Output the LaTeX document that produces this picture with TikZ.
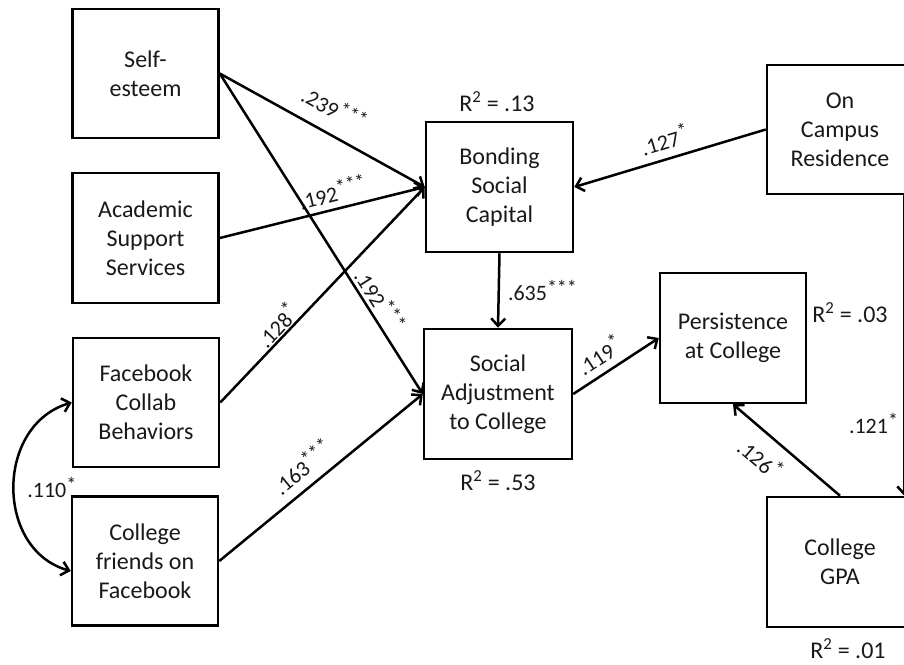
\documentclass[tikz,border=0pt]{standalone}
\usepackage{fontspec}
\setmainfont{Carlito}
\usetikzlibrary{arrows.meta,calc}
\newcommand\sigstars[1]{\raisebox{0.3em}{\fontsize{20}{20}\selectfont #1}}
\begin{document}
\begin{tikzpicture}[x=1pt,y=-1pt,
  box/.style={draw, line width=2.5pt, minimum width=146pt, minimum height=129pt, align=center, font=\fontsize{24}{29}\selectfont, inner sep=0pt, text=black!90},
  conn/.style={line width=2.5pt, -{Straight Barb[length=7.5pt,width=14pt]}},
  coef/.style={font=\fontsize{22}{26}\selectfont, inner sep=1pt, text=black!90},
  rsq/.style={font=\fontsize{24}{28}\selectfont, inner sep=0pt, text=black!90}]
\useasboundingbox (0,0) rectangle (904,664);
\clip (0,0) rectangle (904,664);

% boxes
\node[box] (se) at (145.5,73.5) {Self-\\esteem};
\node[box, minimum height=130pt] (ass) at (145.5,238) {Academic\\Support\\Services};
\node[box] (fb) at (146,402.5) {Facebook\\Collab\\Behaviors};
\node[box] (cf) at (145,561) {College\\friends on\\Facebook};
\node[box, minimum width=147pt, minimum height=130pt] (bsc) at (499.5,187) {Bonding\\Social\\Capital};
\node[box, minimum width=148pt, minimum height=130pt] (sa) at (498,394) {Social\\Adjustment\\to College};
\node[box, minimum height=130pt] (pc) at (733,338) {Persistence\\at College};
\node[box] (oc) at (840,129.5) {On\\Campus\\Residence};
\node[box, minimum height=130pt] (gpa) at (840,562) {College\\GPA};

% R-squared labels
\node[rsq] (r13) at (497,102) {R\textsuperscript{2} = .13};
\node[rsq] (r53) at (498,481) {R\textsuperscript{2} = .53};
\node[rsq] (r03) at (850,313) {R\textsuperscript{2} = .03};
\node[rsq] (r01) at (848,649) {R\textsuperscript{2} = .01};

% paths
\draw[conn] (se.east) -- node[coef, sloped, above=13pt, pos=0.5] (l239) {.239\sigstars{***}} (bsc.west);
\draw[conn] (ass.east) -- node[coef, sloped, above=5pt, pos=0.57] (l192a) {.192\sigstars{***}} (bsc.west);
\draw[conn] (fb.east) -- node[coef, sloped, above=0pt, pos=0.32] (l128) {.128\sigstars{*}} (bsc.west);
\draw[conn] (se.east) -- node[coef, sloped, above=2pt, pos=0.73] (l192b) {.192\sigstars{***}} (sa.west);
\draw[conn] (cf.east) -- node[coef, sloped, above=8pt, pos=0.47] (l163) {.163\sigstars{***}} (sa.west);
\draw[conn] (bsc.south) -- node[coef, right=7pt, pos=0.5] (l635) {.635\sigstars{***}} (sa.north);
\draw[conn] (sa.east) -- node[coef, sloped, above=6pt, pos=0.42] (l119) {.119\sigstars{*}} (pc.west);
\draw[conn] (oc.west) -- node[coef, sloped, above=7pt, pos=0.5] (l127) {.127\sigstars{*}} (bsc.east);
\draw[conn] (gpa.north) -- node[coef, sloped, below=10pt, pos=0.6] (l126) {.126\sigstars{*}} (pc.south);
\draw[conn] ($(oc.south east)+(-10,0)$) -- node[coef, left=4pt, pos=0.76] (l121) {.121\sigstars{*}} ($(gpa.north east)+(-10,0)$);
\draw[conn, {Straight Barb[length=7.5pt,width=14pt]}-{Straight Barb[length=7.5pt,width=14pt]}]
  (fb.west) .. controls (-5,425) and (-5,550) .. ($(cf.west)+(0,10)$)
  node[coef, pos=0.5, right=11pt] (l110) {.110\sigstars{*}};
\end{tikzpicture}
\end{document}
